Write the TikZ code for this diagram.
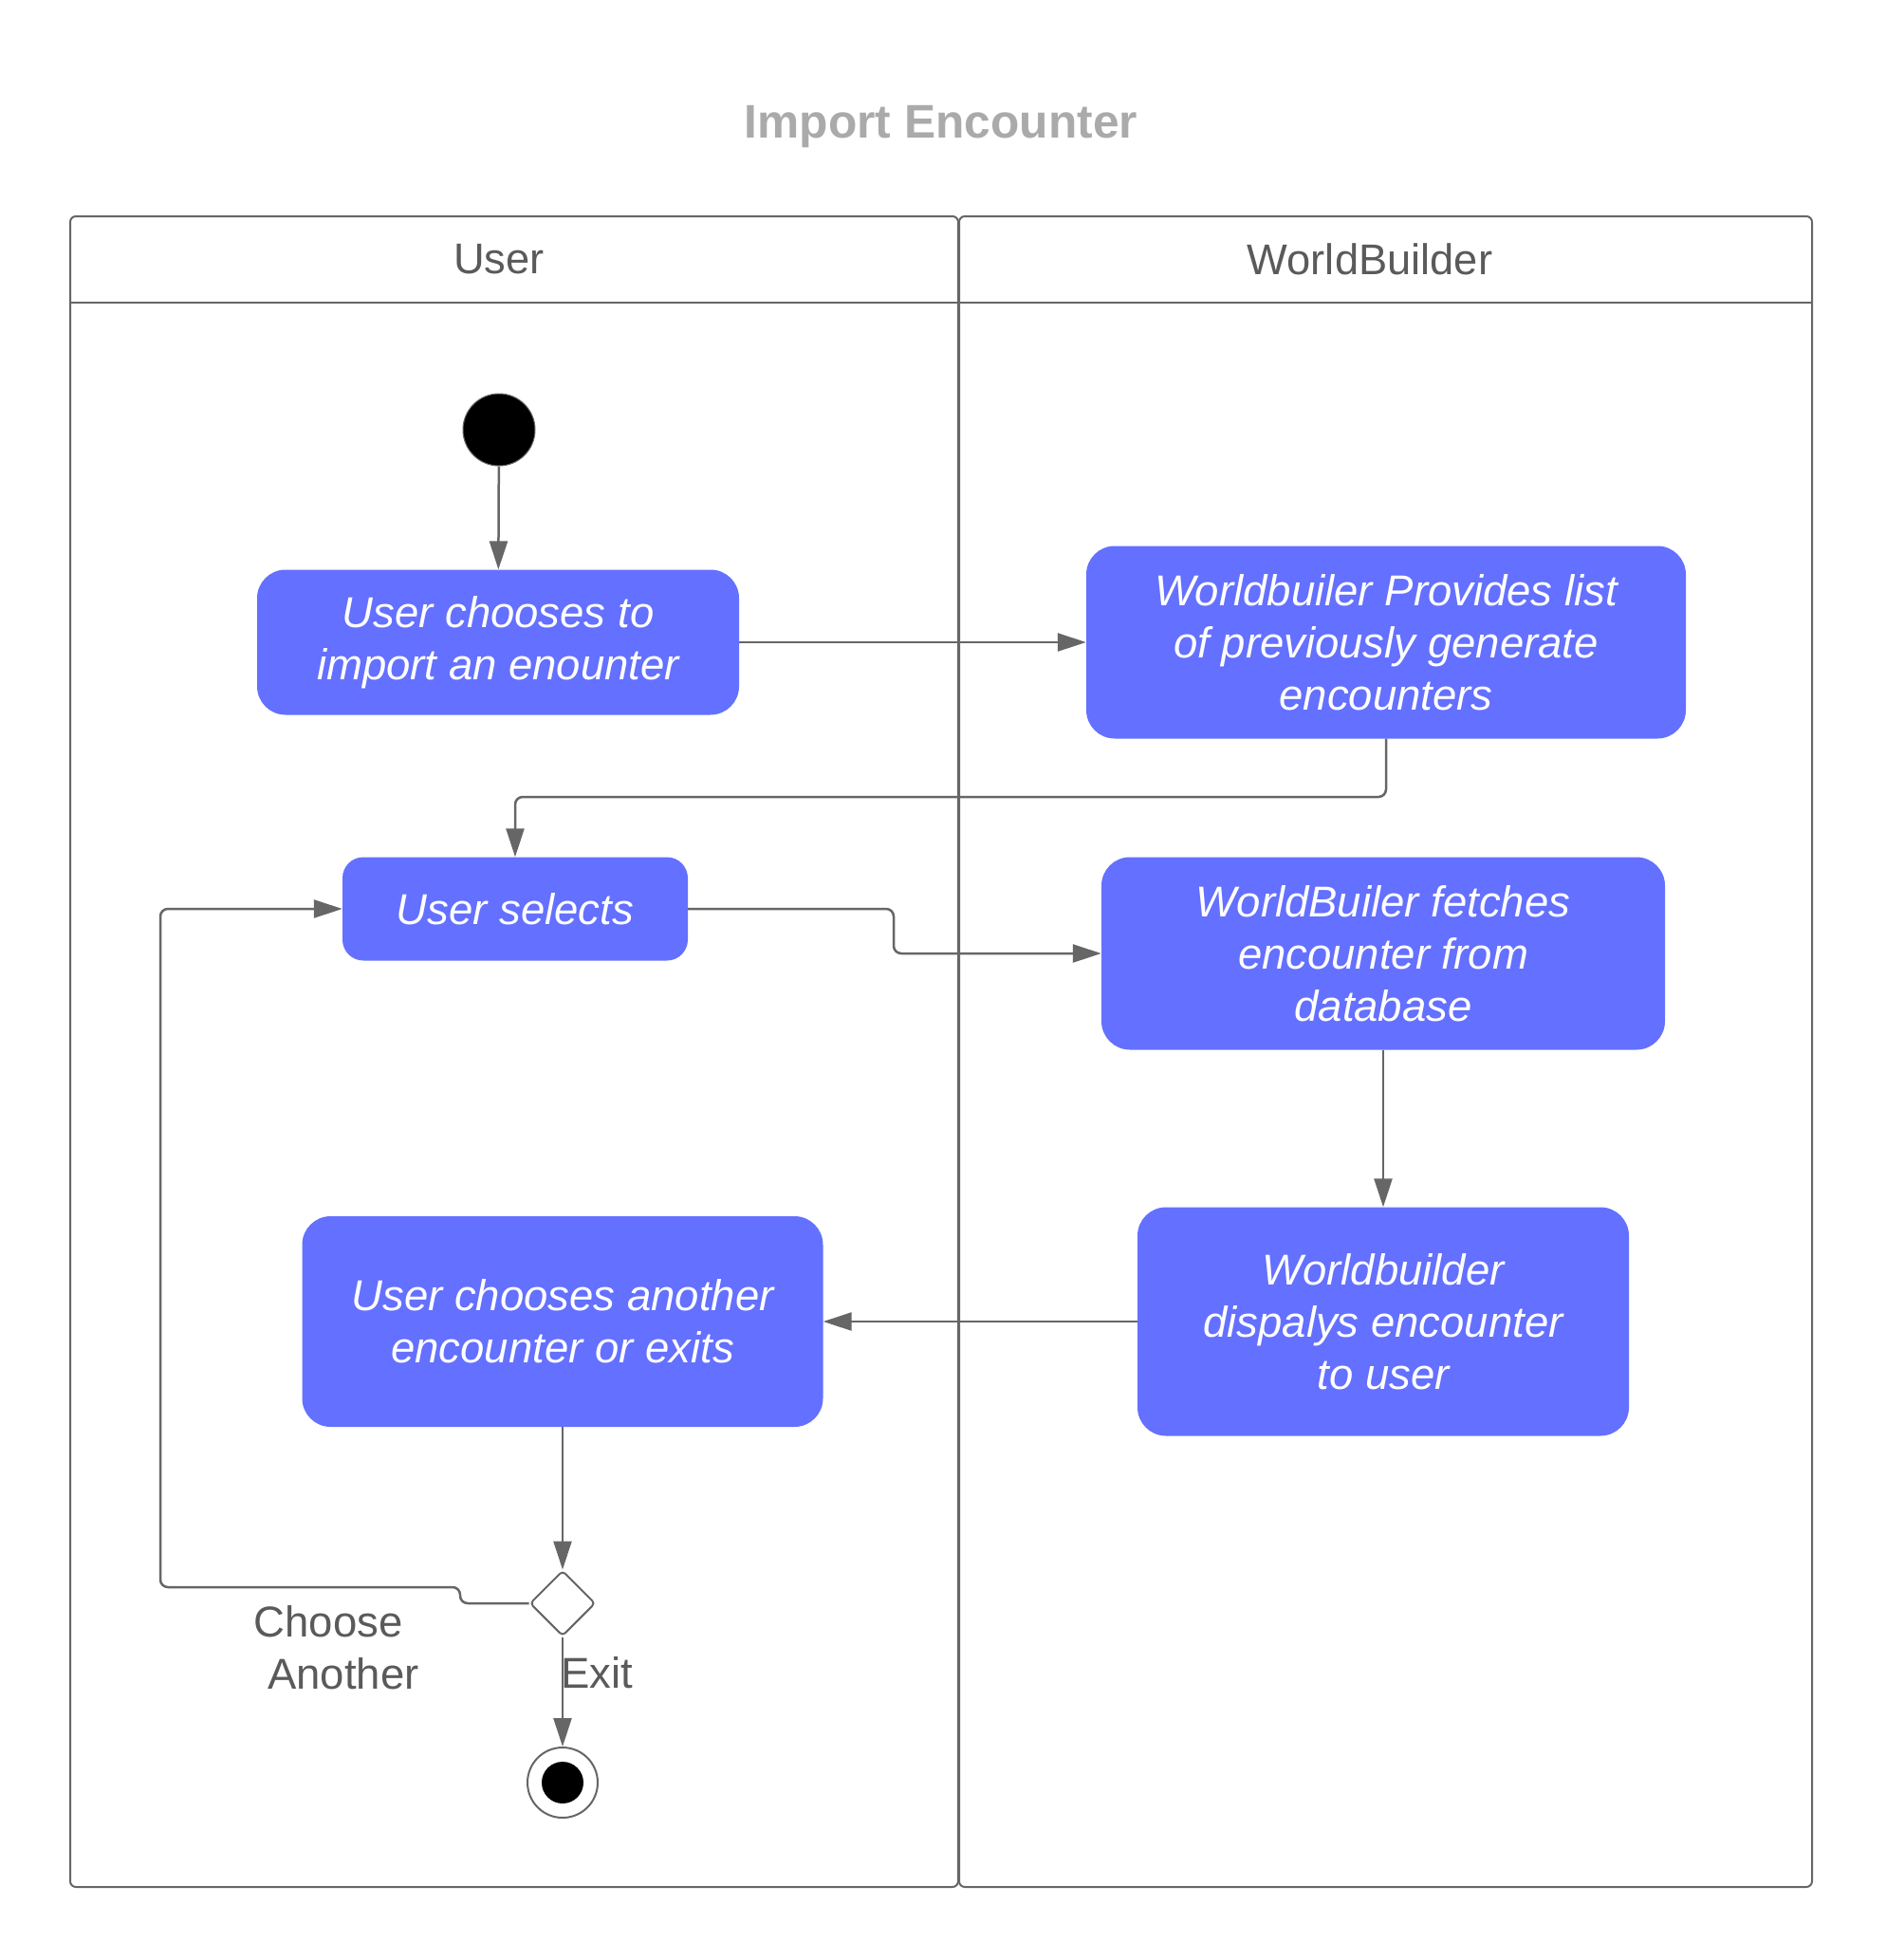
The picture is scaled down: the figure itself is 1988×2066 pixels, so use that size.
\documentclass[tikz,border=0pt]{standalone}
\usepackage{fontspec}
\setmainfont{Liberation Sans}
\usetikzlibrary{arrows.meta,shapes.geometric}
\definecolor{boxblue}{RGB}{100,112,255}
\definecolor{linegray}{RGB}{102,102,102}
\definecolor{titlegray}{RGB}{170,170,170}
\definecolor{textgray}{RGB}{90,90,90}
\begin{document}
\begin{tikzpicture}[x=1pt,y=-1pt,
  act/.style={draw=none, fill=boxblue, rounded corners=30pt, text=white, align=center,
    font=\fontsize{45.5}{55}\selectfont\itshape, inner sep=0pt},
  flow/.style={draw=linegray, line width=2.5pt, rounded corners=8pt,
    -{Triangle[length=30pt,width=19pt]}},
  lane/.style={draw=linegray, line width=2pt, rounded corners=6pt},
  lanelabel/.style={text=textgray, font=\fontsize{45.3}{54}\selectfont},
  guard/.style={text=textgray, font=\fontsize{45.5}{55}\selectfont, inner sep=0pt},
]
\useasboundingbox (0,0) rectangle (1988,2066);

% title
\node[font=\fontsize{49.7}{60}\selectfont\bfseries, text=titlegray] (title) at (992,134) {Import Encounter};

% swimlanes
\draw[lane] (74,228) rectangle (1010,1989);
\draw[lane] (1011,228) rectangle (1910,1989);
\draw[draw=linegray, line width=2pt] (74,319) -- (1910,319);
\node[lanelabel] (luser) at (526,273) {User};
\node[lanelabel] (lwb) at (1444,273) {WorldBuilder};

% nodes
\node[circle, fill=black, draw=linegray, line width=1pt, minimum size=76pt, inner sep=0pt] (start) at (526,453) {};
\node[act, minimum width=508pt, minimum height=153pt] (a1) at (525,677) {User chooses to\\import an enounter};
\node[act, minimum width=632pt, minimum height=203pt] (a2) at (1461,677) {Worldbuiler Provides list\\of previously generate\\encounters};
\node[act, minimum width=364pt, minimum height=109pt, rounded corners=22pt] (a3) at (543,958) {User selects};
\node[act, minimum width=594pt, minimum height=203pt] (a4) at (1458,1005) {WorldBuiler fetches\\encounter from\\database};
\node[act, minimum width=518pt, minimum height=241pt] (a5) at (1458,1393) {Worldbuilder\\dispalys encounter\\to user};
\node[act, minimum width=549pt, minimum height=222pt] (a6) at (593,1393) {User chooses another\\encounter or exits};
\node[diamond, draw=linegray, line width=2pt, fill=white, minimum width=69pt, minimum height=69pt,
  inner sep=0pt, rounded corners=4pt] (dec) at (593,1690) {};
\node[circle, draw=linegray, line width=2pt, fill=white, minimum size=74pt, inner sep=0pt] (end) at (593,1879) {};
\node[circle, fill=black, minimum size=44pt, inner sep=0pt] (endin) at (end.center) {};

% connectors
\draw[flow] (start) -- (a1);
\draw[flow] (a1) -- (a2);
\draw[flow] (a2.south) -- (1461,840) -- (543,840) -- (a3.north);
\draw[flow] (a3.east) -- (942,958) -- (942,1005) -- (a4.west);
\draw[flow] (a4) -- (a5);
\draw[flow] (a5) -- (a6);
\draw[flow] (a6) -- (dec);
\draw[flow] (dec) -- (end);
\draw[flow] (dec.west) -- (485,1690) -- (485,1673) -- (169,1673) -- (169,958) -- (a3.west);

% guards
\node[guard, align=center] (gchoose) at (362,1737) {Choose\hspace*{32pt}\\Another};
\node[guard, anchor=west] (gexit) at (591,1763) {Exit};
\end{tikzpicture}
\end{document}
